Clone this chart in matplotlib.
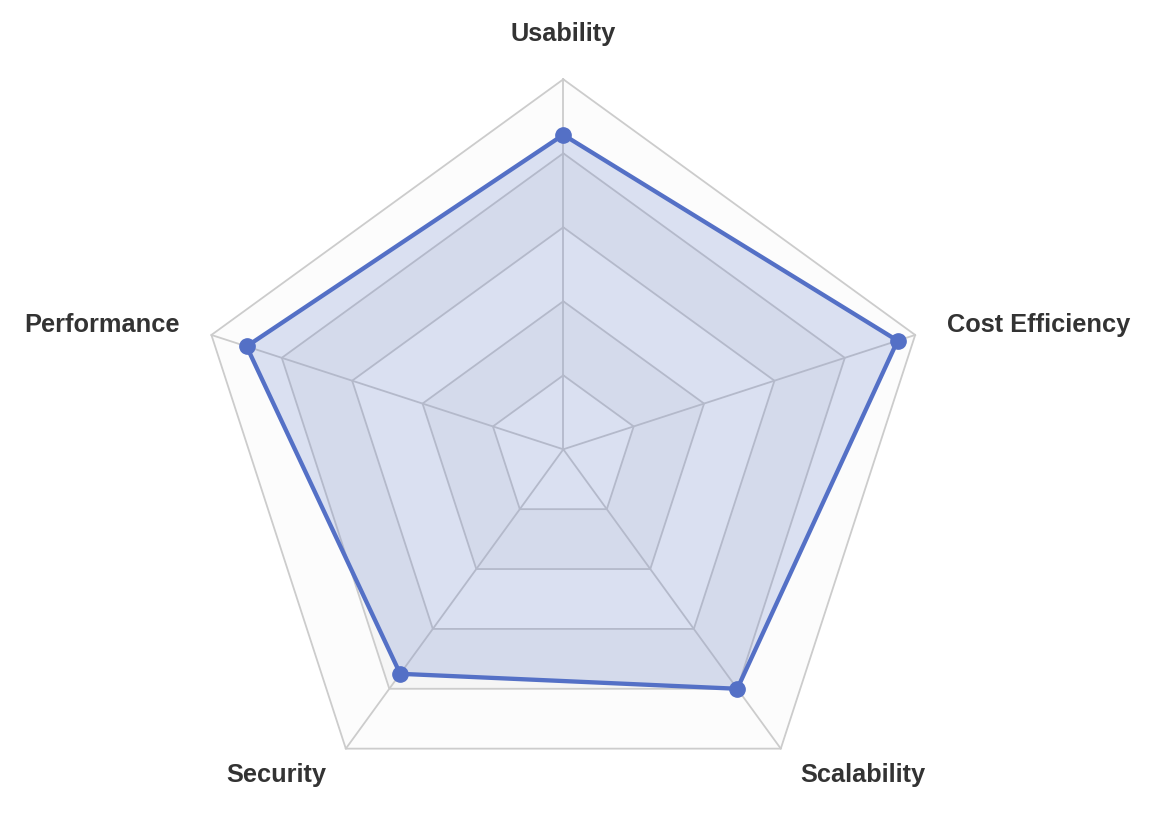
import numpy as np
import matplotlib
matplotlib.use("Agg")
import matplotlib.pyplot as plt

# radar data
indicators = ["Usability", "Cost Efficiency", "Scalability", "Security", "Performance"]
values = [85, 95, 80, 75, 90]
max_value = 100
n_split = 5

line_color = "#5470c6"
grid_color = "#cccccc"
split_colors = ["#fcfcfc", "#f5f5f5"]

W, H = 1156, 813
fig = plt.figure(figsize=(W / 100, H / 100), dpi=100)
ax = fig.add_axes([0, 0, 1, 1])

# pixel geometry of the radar (center and radius in px)
cx, cy, R = 563.3, 449.3, 370.0
k = R / max_value
ax.set_xlim(-cx / k, (W - cx) / k)
ax.set_ylim(-(H - cy) / k, cy / k)
ax.set_aspect("equal")
ax.axis("off")

n = len(indicators)
ang = np.pi / 2 - np.arange(n) * 2 * np.pi / n
ux, uy = np.cos(ang), np.sin(ang)

def ring(r):
    return np.append(r * ux, r * ux[0]), np.append(r * uy, r * uy[0])

# split areas, outer first so inner ones cover
levels = np.linspace(0, max_value, n_split + 1)
for i in range(n_split, 0, -1):
    xs, ys = ring(levels[i])
    ax.fill(xs, ys, color=split_colors[(i - 1) % 2], zorder=1, lw=0)
for i in range(1, n_split + 1):
    xs, ys = ring(levels[i])
    ax.plot(xs, ys, color=grid_color, lw=1.3, zorder=2)
for j in range(n):
    ax.plot([0, max_value * ux[j]], [0, max_value * uy[j]], color=grid_color, lw=1.3, zorder=2)

# data series
v = np.array(values, dtype=float)
dx = np.append(v * ux, v[0] * ux[0])
dy = np.append(v * uy, v[0] * uy[0])
ax.fill(dx, dy, color=line_color, alpha=0.2, lw=0, zorder=3)
ax.plot(dx, dy, color=line_color, lw=3.1, zorder=4, solid_joinstyle="round")
ax.plot(v * ux, v * uy, "o", color=line_color, ms=11, zorder=5)

# indicator names
r_lab = 403 / k
for j, name in enumerate(indicators):
    x, y = r_lab * ux[j], r_lab * uy[j]
    if abs(ux[j]) < 1e-6:
        ha = "center"
        va = "bottom" if uy[j] > 0 else "top"
    else:
        ha = "left" if ux[j] > 0 else "right"
        va = "center"
    ax.text(x, y, name, ha=ha, va=va, fontsize=18.3, fontweight="bold",
            color="#333333", family=["Liberation Sans", "DejaVu Sans"])

fig.savefig("out.png", dpi=100)
